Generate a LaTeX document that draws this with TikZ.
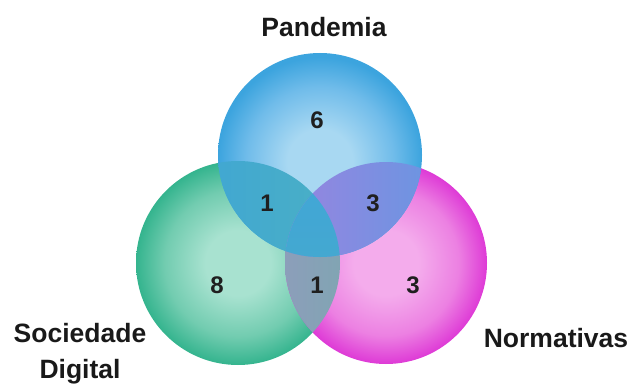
\documentclass[tikz,border=0pt]{standalone}
\usepackage{fontspec}
\setmainfont{Liberation Sans}
\definecolor{gin}{HTML}{A8E2D0}
\definecolor{gmid}{HTML}{72CCB0}
\definecolor{gout}{HTML}{34B48E}
\definecolor{min}{HTML}{F4ACEC}
\definecolor{mmid}{HTML}{EC80E2}
\definecolor{mout}{HTML}{DE3AD6}
\definecolor{bin}{HTML}{A8D8F2}
\definecolor{bmid}{HTML}{70BCEA}
\definecolor{bout}{HTML}{3CA4DE}
\definecolor{gmL}{RGB}{140,158,186}
\definecolor{gmR}{RGB}{100,182,160}
\definecolor{bgL}{RGB}{60,162,218}
\definecolor{bgR}{RGB}{74,176,196}
\definecolor{bmL}{RGB}{152,132,224}
\definecolor{bmR}{RGB}{90,156,226}
\definecolor{tT}{RGB}{64,166,216}
\definecolor{tB}{RGB}{72,170,200}
\pgfdeclareradialshading{greensh}{\pgfpoint{0bp}{0bp}}{color(0bp)=(gin); color(8bp)=(gin); color(18bp)=(gmid); color(25bp)=(gout); color(50bp)=(gout)}
\pgfdeclareradialshading{magsh}{\pgfpoint{0bp}{0bp}}{color(0bp)=(min); color(8bp)=(min); color(18bp)=(mmid); color(25bp)=(mout); color(50bp)=(mout)}
\pgfdeclareradialshading{bluesh}{\pgfpoint{0bp}{-2bp}}{color(0bp)=(bin); color(8bp)=(bin); color(18bp)=(bmid); color(25bp)=(bout); color(50bp)=(bout)}
\tikzset{
  lbl/.style={font=\bfseries\fontsize{26.5}{30}\selectfont, text=black!90, inner sep=0pt},
  num/.style={font=\bfseries\fontsize{24}{28}\selectfont, text=black!88, inner sep=0pt}
}
\begin{document}
\begin{tikzpicture}[x=1pt,y=-1pt]
\useasboundingbox (0,0) rectangle (631,385);
\coordinate (cB) at (320,155);
\coordinate (cG) at (238,263);
\coordinate (cM) at (386,263);
\def\rB{102}\def\rG{102}\def\rM{101}
% circles
\shade[shading=greensh] (cG) circle[radius=\rG];
\shade[shading=magsh] (cM) circle[radius=\rM];
\shade[shading=bluesh] (cB) circle[radius=\rB];
% green & magenta lens
\begin{scope}
  \clip (cG) circle[radius=\rG];
  \shade[left color=gmL, right color=gmR] (cM) circle[radius=\rM];
\end{scope}
% blue & green
\begin{scope}
  \clip (cB) circle[radius=\rB];
  \shade[left color=bgL, right color=bgR] (cG) circle[radius=\rG];
\end{scope}
% blue & magenta
\begin{scope}
  \clip (cB) circle[radius=\rB];
  \shade[left color=bmL, right color=bmR] (cM) circle[radius=\rM];
\end{scope}
% triple
\begin{scope}
  \clip (cB) circle[radius=\rB];
  \clip (cG) circle[radius=\rG];
  \shade[top color=tT, bottom color=tB] (cM) circle[radius=\rM];
\end{scope}
% numbers
\node[num] (n6) at (317,120) {6};
\node[num] (n1a) at (267,203) {1};
\node[num] (n3a) at (373,203) {3};
\node[num] (n8) at (217,285) {8};
\node[num] (n1b) at (317,285) {1};
\node[num] (n3b) at (413,285) {3};
% labels
\node[lbl] (lP) at (324,27) {Pandemia};
\node[lbl, align=center, font=\bfseries\fontsize{26.5}{36}\selectfont] (lS) at (80,354) {Sociedade\\Digital};
\node[lbl] (lN) at (556,338) {Normativas};
\end{tikzpicture}
\end{document}
